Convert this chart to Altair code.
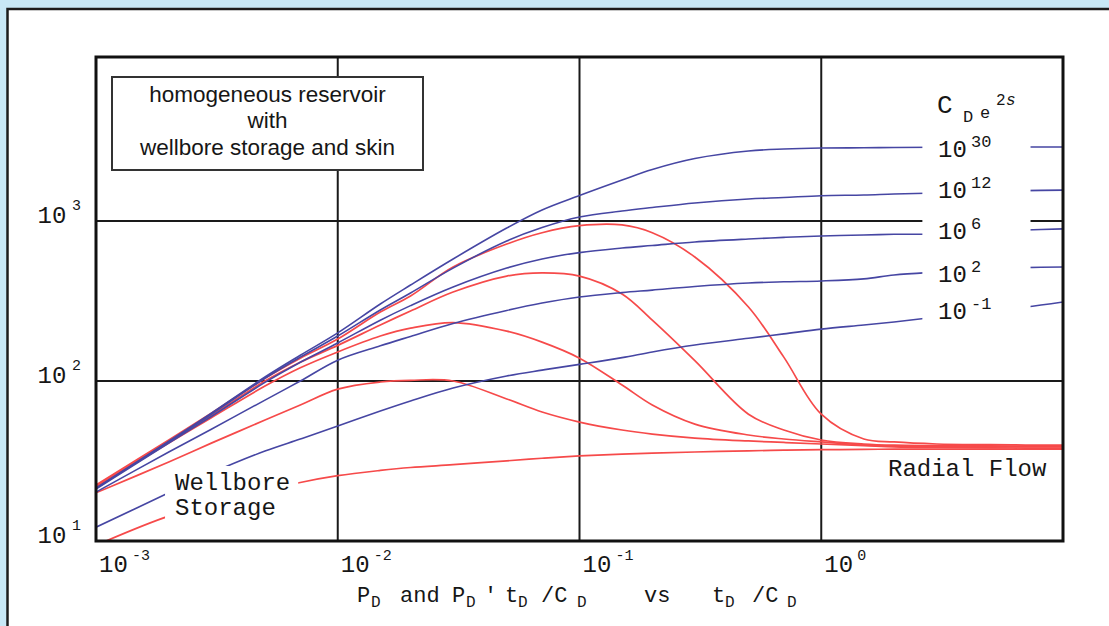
import altair as alt
import pandas as pd

# ---------------- data ----------------
t_grid = [0.001, 0.002, 0.003, 0.005, 0.007, 0.01, 0.015, 0.02, 0.03, 0.05, 0.07,
          0.1, 0.15, 0.2, 0.3, 0.5, 0.7, 1, 1.5, 2, 3, 5, 7, 10]

# pressure curves P_D (blue), one per C_D e^2s
p_1e30 = [21.4, 42, 63, 106, 145, 200, 303, 398, 579, 904, 1172, 1443, 1804, 2098, 2457, 2738, 2818, 2860, 2870, 2880, 2890, 2900, 2900, 2900]
p_1e12 = [21.4, 41.5, 62, 104, 141, 191, 278, 355, 508, 750, 910, 1059, 1155, 1214, 1296, 1373, 1403, 1440, 1454, 1476, 1496, 1528, 1550, 1560]
p_1e6 = [21.1, 41, 60, 98, 131, 173, 240, 296, 387, 508, 579, 635, 678, 703, 740, 772, 790, 806, 818, 826, 830, 866, 879, 893]
p_1e2 = [20.2, 36, 50, 76, 100, 135, 166, 190, 229, 276, 307, 335, 357, 370, 390, 410, 417, 422, 435, 460, 480, 501, 512, 516]
p_1em1 = [12.2, 20, 26.6, 36.5, 43.4, 52.3, 64.9, 75, 90.4, 107.5, 117, 127, 140, 152, 168, 185, 197, 211, 224, 234, 251, 274, 290, 312]

# derivative curves P_D' t_D/C_D (red)
d_1e30 = [22.4, 42.8, 63, 104, 139, 183, 270, 340, 516, 718, 845, 935, 945, 845, 596, 290, 141, 62, 43.4, 41.6, 40.4, 40, 39.8, 39.8]
d_1e12 = [22, 42, 61, 100, 131, 167, 224, 274, 360, 453, 474, 453, 350, 240, 134, 62, 49.4, 42.8, 40.4, 39.7, 39.5, 39.3, 39.2, 39.2]
d_1e6 = [21.7, 41, 59, 93, 121, 152, 191, 214, 232, 205, 175, 139, 94.4, 70.8, 53.8, 46, 43.4, 41.6, 39.9, 39.2, 38.9, 38.8, 38.7, 38.7]
d_1e2 = [20, 31.2, 40.9, 57, 70.8, 89, 98.6, 101, 100, 77.2, 64, 55.4, 49.4, 46.6, 44, 42.2, 41.3, 40.4, 39.5, 38.8, 38.4, 38.2, 38.1, 38.1]
d_1em1 = [9.4, 14.3, 16.8, 20.5, 23.2, 25.6, 27.6, 28.8, 30, 31.7, 32.9, 34, 34.9, 35.4, 36, 36.6, 37, 37.2, 37.4, 37.5, 37.5, 37.5, 37.5, 37.5]

curve_names = ["1e30", "1e12", "1e6", "1e2", "1e-1"]
pressure = [p_1e30, p_1e12, p_1e6, p_1e2, p_1em1]
derivative = [d_1e30, d_1e12, d_1e6, d_1e2, d_1em1]

# right-hand curve labels
label_base = ["10", "10", "10", "10", "10"]
label_exp = ["30", "12", "6", "2", "-1"]
label_y = [2512, 1393, 772, 416, 244]

# axes
x_domain = [0.001, 10]
y_domain = [10, 10600]
x_ticks = [0.001, 0.01, 0.1, 1]
x_exps = ["-3", "-2", "-1", "0"]
y_ticks = [10, 100, 1000]
y_exps = ["1", "2", "3"]
x_grid = [0.01, 0.1, 1]
y_grid = [100, 1000]

# white breaks behind the labels
gap_x = [0.00193, 2.62]
gap_x2 = [0.00686, 7.34]
gap_y = [12.6, 234]
gap_y2 = [29.4, 3300]

# ---------------- styling / layout ----------------
W, H = 967, 484
PL, PT = 96, 57
BG = "#c8e8f6"
BLUE = "#4646a3"
RED = "#f64a4a"
INK = "#161616"
MONO = "Liberation Mono"
SANS = "Liberation Sans"

xs = alt.Scale(type="log", domain=x_domain)
ys = alt.Scale(type="log", domain=y_domain)

rows = []
for name, pv, dv in zip(curve_names, pressure, derivative):
    for t, p, d in zip(t_grid, pv, dv):
        rows.append({"t": t, "v": p, "curve": "P " + name, "kind": "pressure"})
        rows.append({"t": t, "v": d, "curve": "D " + name, "kind": "derivative"})
df = pd.DataFrame(rows)

ONE = pd.DataFrame({"a": [0]})

frame = alt.Chart(ONE).mark_rect(fill="white", stroke="#1c1c1c", strokeWidth=2.5).encode(
    x=alt.value(7.5 - PL), x2=alt.value(1140 - PL), y=alt.value(9 - PT), y2=alt.value(660 - PT))

vgrid = alt.Chart(pd.DataFrame({"t": x_grid})).mark_rule(color="#1a1a1a", strokeWidth=2).encode(
    x=alt.X("t:Q", scale=xs, axis=None))
hgrid = alt.Chart(pd.DataFrame({"v": y_grid})).mark_rule(color="#1a1a1a", strokeWidth=2).encode(
    y=alt.Y("v:Q", scale=ys, axis=None))

red_lines = alt.Chart(df[df.kind == "derivative"]).mark_line(
    color=RED, strokeWidth=1.7, interpolate="catmull-rom", clip=True).encode(
    x=alt.X("t:Q", scale=xs, axis=None), y=alt.Y("v:Q", scale=ys, axis=None), detail="curve:N")
blue_lines = alt.Chart(df[df.kind == "pressure"]).mark_line(
    color=BLUE, strokeWidth=1.6, interpolate="catmull-rom", clip=True).encode(
    x=alt.X("t:Q", scale=xs, axis=None), y=alt.Y("v:Q", scale=ys, axis=None), detail="curve:N")

gaps = alt.Chart(pd.DataFrame({"x": gap_x, "x2": gap_x2, "y": gap_y, "y2": gap_y2})).mark_rect(
    fill="white").encode(
    x=alt.X("x:Q", scale=xs, axis=None), x2="x2:Q",
    y=alt.Y("y:Q", scale=ys, axis=None), y2="y2:Q")

box = alt.Chart(ONE).mark_rect(fill="white", stroke="#333333", strokeWidth=2).encode(
    x=alt.value(112 - PL), x2=alt.value(423 - PL), y=alt.value(77 - PT), y2=alt.value(170 - PT))
box_text = alt.Chart(ONE).mark_text(
    text="homogeneous reservoir\nwith\nwellbore storage and skin", lineBreak="\n",
    lineHeight=26.5, font=SANS, fontSize=22.5, color=INK, align="center", baseline="alphabetic").encode(
    x=alt.value(267.5 - PL), y=alt.value(101.5 - PT))

border = alt.Chart(pd.DataFrame({"x": [x_domain[0]], "x2": [x_domain[1]],
                                 "y": [y_domain[0]], "y2": [y_domain[1]]})).mark_rect(
    fill="white", fillOpacity=0, stroke="#111111", strokeWidth=3).encode(
    x=alt.X("x:Q", scale=xs, axis=None), x2="x2:Q",
    y=alt.Y("y:Q", scale=ys, axis=None), y2="y2:Q")

# tick labels
xt = pd.DataFrame({"t": x_ticks, "base": ["10"] * len(x_ticks), "exp": x_exps})
xtick_base = alt.Chart(xt).mark_text(font=MONO, fontSize=24, color=INK, align="left",
                                     baseline="alphabetic", dx=3).encode(
    x=alt.X("t:Q", scale=xs, axis=None), y=alt.value(572 - PT), text="base:N")
xtick_exp = alt.Chart(xt).mark_text(font=MONO, fontSize=15, color=INK, align="left",
                                    baseline="alphabetic", dx=36).encode(
    x=alt.X("t:Q", scale=xs, axis=None), y=alt.value(560 - PT), text="exp:N")

yt = pd.DataFrame({"v": y_ticks, "base": ["10"] * len(y_ticks), "exp": y_exps})
ytick_base = alt.Chart(yt).mark_text(font=MONO, fontSize=24, color=INK, align="left",
                                     baseline="alphabetic", dy=2).encode(
    y=alt.Y("v:Q", scale=ys, axis=None), x=alt.value(37.5 - PL), text="base:N")
ytick_exp = alt.Chart(yt).mark_text(font=MONO, fontSize=15, color=INK, align="left",
                                    baseline="alphabetic", dy=-11).encode(
    y=alt.Y("v:Q", scale=ys, axis=None), x=alt.value(72 - PL), text="exp:N")

lab = pd.DataFrame({"v": label_y, "base": label_base, "exp": label_exp})
lab_base = alt.Chart(lab).mark_text(font=MONO, fontSize=24, color=INK, align="left",
                                    baseline="alphabetic").encode(
    y=alt.Y("v:Q", scale=ys, axis=None), x=alt.value(938 - PL), text="base:N")
lab_exp = alt.Chart(lab).mark_text(font=MONO, fontSize=17, color=INK, align="left",
                                   baseline="alphabetic", dy=-10).encode(
    y=alt.Y("v:Q", scale=ys, axis=None), x=alt.value(971 - PL), text="exp:N")


def txt(s, px, py, size, font=MONO, style="normal"):
    return alt.Chart(ONE).mark_text(text=s, font=font, fontSize=size, color=INK, align="left",
                                    baseline="alphabetic", fontStyle=style).encode(
        x=alt.value(px - PL), y=alt.value(py - PT))


annotations = [
    txt("C", 937, 113, 26), txt("D", 963, 122, 17), txt("e", 980, 118, 17),
    txt("2", 996, 105, 16), txt("s", 1006, 105, 16, style="italic"),
    txt("Wellbore", 175, 490, 24), txt("Storage", 175, 515, 24),
    txt("Radial Flow", 888, 476, 24),
]

title_pieces = [("P", 357, 22, 602), ("D", 371, 16, 607), ("and", 400, 22, 602),
                ("P", 452, 22, 602), ("D", 466, 16, 607), ("'", 484, 22, 602),
                ("t", 505, 22, 602), ("D", 518, 16, 607), ("/C", 541, 22, 602),
                ("D", 577, 16, 607), ("vs", 644, 22, 602), ("t", 712, 22, 602),
                ("D", 725, 16, 607), ("/C", 752, 22, 602), ("D", 787, 16, 607)]
title_layers = [txt(s, px, py, sz) for s, px, sz, py in title_pieces]

chart = alt.layer(
    frame, vgrid, hgrid, red_lines, blue_lines, gaps, box, box_text, border,
    xtick_base, xtick_exp, ytick_base, ytick_exp, lab_base, lab_exp,
    *annotations, *title_layers,
).properties(
    width=W, height=H,
    padding={"left": PL, "top": PT, "right": 1109 - PL - W, "bottom": 626 - PT - H},
    autosize=alt.AutoSizeParams(type="none"),
).configure(background=BG).configure_view(strokeWidth=0)

chart.save("out.html", embed_options={"renderer": "svg", "actions": False})
